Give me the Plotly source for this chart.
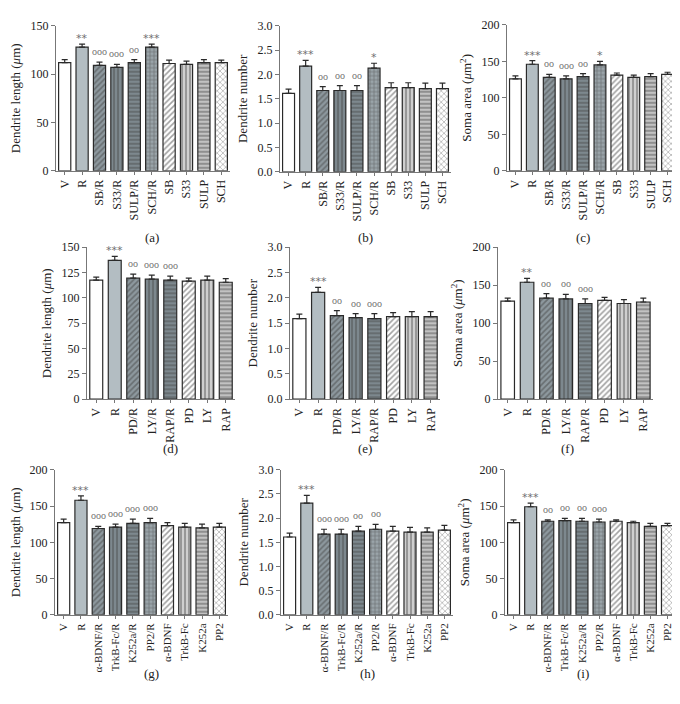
import plotly.graph_objects as go
from plotly.subplots import make_subplots

# ---- data ----
cats_a = ["V", "R", "SB/R", "S33/R", "SULP/R", "SCH/R", "SB", "S33", "SULP", "SCH"]
cats_d = ["V", "R", "PD/R", "LY/R", "RAP/R", "PD", "LY", "RAP"]
cats_g = ["V", "R", "α-BDNF/R", "TrkB-Fc/R", "K252a/R", "PP2/R", "α-BDNF", "TrkB-Fc", "K252a", "PP2"]

len_a = [112, 128, 109, 107, 112, 128, 111, 110, 112, 112]
len_a_err = [3, 3, 3.5, 3, 3, 3, 3.5, 3.5, 3, 2.5]
num_b = [1.61, 2.17, 1.67, 1.67, 1.67, 2.13, 1.73, 1.73, 1.71, 1.71]
num_b_err = [0.09, 0.12, 0.08, 0.1, 0.1, 0.1, 0.1, 0.1, 0.11, 0.11]
soma_c = [126, 146, 128, 126, 129, 145, 131, 128, 129, 132]
soma_c_err = [4, 5, 4, 4, 4, 5, 3, 3, 4, 3]

len_d = [117.5, 137, 119.5, 118.5, 117.5, 116.5, 117.5, 115.5]
len_d_err = [3, 4, 4, 4, 4, 3, 4, 3.5]
num_e = [1.59, 2.11, 1.65, 1.61, 1.59, 1.63, 1.63, 1.63]
num_e_err = [0.09, 0.1, 0.1, 0.08, 0.1, 0.08, 0.1, 0.1]
soma_f = [129, 154, 133, 132, 126, 130, 126, 128]
soma_f_err = [4, 5, 6, 6, 6, 4, 5, 5]

len_g = [127, 158, 119, 121, 126, 127, 123, 121, 120, 121]
len_g_err = [5, 6, 3, 4, 6, 6, 4, 5, 5, 5]
num_h = [1.61, 2.31, 1.67, 1.67, 1.73, 1.77, 1.73, 1.71, 1.71, 1.75]
num_h_err = [0.08, 0.16, 0.1, 0.1, 0.1, 0.1, 0.1, 0.1, 0.09, 0.1]
soma_i = [127, 149, 129, 130, 129, 128, 129, 127, 122, 123]
soma_i_err = [4, 5, 2, 3, 4, 4, 2, 2, 4, 3]

sig_a = ["", "**", "ooo", "ooo", "oo", "***", "", "", "", ""]
sig_b = ["", "***", "oo", "oo", "oo", "*", "", "", "", ""]
sig_c = ["", "***", "oo", "ooo", "oo", "*", "", "", "", ""]
sig_d = ["", "***", "oo", "ooo", "ooo", "", "", ""]
sig_e = ["", "***", "oo", "oo", "ooo", "", "", ""]
sig_f = ["", "**", "oo", "oo", "ooo", "", "", ""]
sig_g = ["", "***", "ooo", "ooo", "ooo", "ooo", "", "", "", ""]
sig_h = ["", "***", "ooo", "ooo", "oo", "oo", "", "", "", ""]
sig_i = ["", "***", "oo", "oo", "oo", "ooo", "", "", "", ""]

LEN_T = "Dendrite length (<i>μ</i>m)"
NUM_T = "Dendrite number"
SOMA_T = "Soma area (<i>μ</i>m<sup>2</sup>)"

# bar fill styles: (shape, fg, base colour, solidity)
STYLE = {
    "white": ("", "#333333", "#ffffff", 0.3),
    "solid": ("", "#333333", "#b3bdc2", 0.3),
    "diag_d": ("/", "#2a2f31", "#8d989e", 0.4),
    "vert_d": ("|", "#2a2f31", "#7d888e", 0.4),
    "hor_d": ("-", "#2a2f31", "#7d888e", 0.4),
    "dot_d": ("+", "#4d5559", "#9aa4a9", 0.35),
    "diag_l": ("/", "#1e1e1e", "#ffffff", 0.4),
    "vert_l": ("|", "#333333", "#cfcfcf", 0.4),
    "hor_l": ("-", "#111111", "#c2c2c2", 0.4),
    "dot_l": ("x", "#8a8a8a", "#ffffff", 0.3),
}
ten = ["white", "solid", "diag_d", "vert_d", "hor_d", "dot_d", "diag_l", "vert_l", "hor_l", "dot_l"]
eight = ["white", "solid", "diag_d", "vert_d", "hor_d", "diag_l", "vert_l", "hor_l"]

W, H = 680, 704
# panel boxes in pixels: left, right, top, bottom
boxes = [
    (48, 222, 11, 159), (272, 443, 11, 160), (499, 668, 10, 159),
    (79, 227, 237, 392), (282, 432, 237, 392), (490, 645, 237, 392),
    (47, 220, 464, 612), (273, 445, 464, 612), (497, 668, 464, 612),
]
panels = [
    (cats_a, len_a, len_a_err, sig_a, ten, LEN_T, 150, 50, "(a)"),
    (cats_a, num_b, num_b_err, sig_b, ten, NUM_T, 3.0, 0.5, "(b)"),
    (cats_a, soma_c, soma_c_err, sig_c, ten, SOMA_T, 200, 50, "(c)"),
    (cats_d, len_d, len_d_err, sig_d, eight, LEN_T, 150, 25, "(d)"),
    (cats_d, num_e, num_e_err, sig_e, eight, NUM_T, 3.0, 0.5, "(e)"),
    (cats_d, soma_f, soma_f_err, sig_f, eight, SOMA_T, 200, 50, "(f)"),
    (cats_g, len_g, len_g_err, sig_g, ten, LEN_T, 200, 50, "(g)"),
    (cats_g, num_h, num_h_err, sig_h, ten, NUM_T, 3.0, 0.5, "(h)"),
    (cats_g, soma_i, soma_i_err, sig_i, ten, SOMA_T, 200, 50, "(i)"),
]

FONT = "Liberation Serif, Times New Roman, serif"
fig = make_subplots(rows=3, cols=3)

for k, (cats, vals, errs, sigs, styles, ytitle, ymax, dtick, lab) in enumerate(panels):
    r, c = k // 3 + 1, k % 3 + 1
    shapes = [STYLE[s][0] for s in styles]
    fgs = [STYLE[s][1] for s in styles]
    bases = [STYLE[s][2] for s in styles]
    sols = [STYLE[s][3] for s in styles]
    fig.add_trace(go.Bar(
        x=cats, y=vals,
        marker=dict(color=bases, line=dict(color="#2a2a2a", width=1.2),
                    pattern=dict(shape=shapes, fgcolor=fgs, size=4,
                                 solidity=sols, fillmode="overlay")),
        error_y=dict(type="data", symmetric=False, array=errs,
                     arrayminus=[0] * len(errs), color="#2a2a2a",
                     thickness=1.2, width=3),
        showlegend=False,
    ), row=r, col=c)
    xn = "xaxis" if k == 0 else f"xaxis{k + 1}"
    yn = "yaxis" if k == 0 else f"yaxis{k + 1}"
    L, R, T, B = boxes[k]
    fig.layout[xn].update(domain=[L / W, R / W], range=[-0.5, len(cats) - 0.5],
                          tickfont=dict(size=11 if r == 3 else 12))
    fig.layout[yn].update(domain=[1 - B / H, 1 - T / H], range=[0, ymax], dtick=dtick)
    fig.update_yaxes(title=dict(text=ytitle, standoff=6,
                                font=dict(size=13, family=FONT, color="#222")),
                     tickformat=".1f" if ymax == 3.0 else "d", row=r, col=c)
    xref = "x" if k == 0 else f"x{k + 1}"
    yref = "y" if k == 0 else f"y{k + 1}"
    for cat, v, e, s in zip(cats, vals, errs, sigs):
        if s:
            star = "*" in s
            fig.add_annotation(x=cat, y=v + e, xref=xref, yref=yref, text=s,
                               showarrow=False, yanchor="bottom",
                               yshift=-3 if star else 3,
                               font=dict(family="DejaVu Sans" if star else FONT,
                                         size=11 if star else 10, color="#707070"))
    fig.add_annotation(x=(L + R) / 2 / W, y=1 - {0: 217, 1: 442, 2: 682}[k // 3] / H,
                       xref="paper", yref="paper", text=lab, showarrow=False,
                       font=dict(family=FONT, size=13, color="#222"))

fig.update_xaxes(showline=True, linecolor="#777777", linewidth=1.2, ticks="outside",
                 ticklen=3, tickcolor="#777777", tickangle=-90,
                 tickfont=dict(family=FONT, color="#222"), showgrid=False,
                 zeroline=False, fixedrange=True)
fig.update_yaxes(showline=True, linecolor="#777777", linewidth=1.2, ticks="outside",
                 ticklen=4, tickcolor="#777777",
                 tickfont=dict(family=FONT, size=12, color="#222"), showgrid=False,
                 zeroline=False)
fig.update_layout(width=W, height=H, margin=dict(l=0, r=0, t=0, b=0),
                  plot_bgcolor="white", paper_bgcolor="white", bargap=0.3)

fig.write_html("out.html")
